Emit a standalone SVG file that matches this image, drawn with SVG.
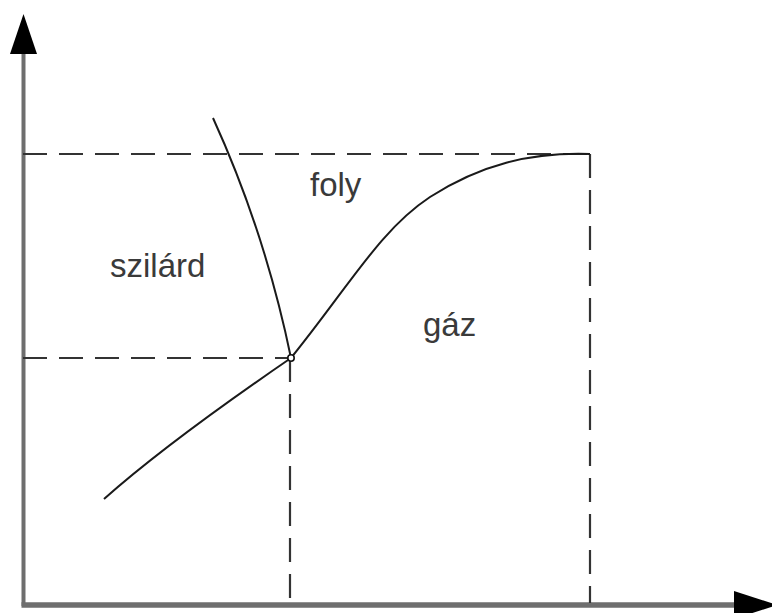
<svg xmlns="http://www.w3.org/2000/svg" width="772" height="613" viewBox="0 0 772 613">
<style>
.axis{stroke:#6e6e6e;fill:none}
.dash{stroke:#333;stroke-width:2.2;stroke-dasharray:24 12;fill:none}
.curve{stroke:#1a1a1a;stroke-width:2;fill:none}
.lbl{font-family:"Liberation Sans",Arial,sans-serif;font-size:33px;fill:#3a3a3a}
</style>
<rect width="772" height="613" fill="#fff"/>
<g id="axes">
<line class="axis" x1="23.5" y1="50" x2="23.5" y2="606" stroke-width="4"/>
<line class="axis" x1="21.5" y1="605" x2="738" y2="605" stroke-width="5.5" stroke="#7c7c7c"/>
<polygon points="23.5,14 10,54 37,54" fill="#000"/>
<polygon points="734,591 734,619 777,605" fill="#000"/>
</g>
<g id="guides">
<line class="dash" x1="23" y1="154" x2="590" y2="154"/>
<line class="dash" x1="590" y1="154" x2="590" y2="603"/>
<line class="dash" x1="23" y1="358" x2="290" y2="358"/>
<line class="dash" x1="290" y1="358" x2="290" y2="603"/>
</g>
<g id="curves">
<path class="curve" d="M213,118 Q265,232 291,358"/>
<path class="curve" d="M104,499 Q167,443 291,358"/>
<path class="curve" d="M291,358 C350,285 380,230 430,197 C480,165 530,152 590,154"/>
<circle cx="291" cy="358" r="3.2" fill="#fff" stroke="#111" stroke-width="1.6"/>
</g>
<g id="labels">
<text class="lbl" x="310" y="196">foly</text>
<text class="lbl" x="110" y="277">szilárd</text>
<text class="lbl" x="423" y="336">gáz</text>
</g>
</svg>
